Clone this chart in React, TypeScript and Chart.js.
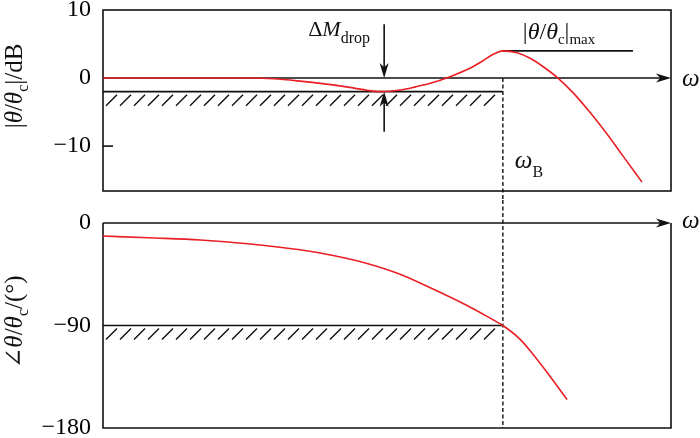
import React, { useEffect, useRef } from "react";
import { Chart, registerables } from "chart.js";

Chart.register(...registerables);

// ---- data ----
const magOmega = [0, 10, 20, 26, 30, 34.7, 40.5, 44, 46.5, 48.8, 52.3, 55, 57.6, 61.1, 64.6, 66.9, 68.7, 70.4, 72.9, 75.2, 77.5, 80.1, 82.7, 85.7, 88.7, 91.5, 94.9];
const magDb = [0, 0, 0, 0, -0.1, -0.45, -1.0, -1.45, -1.8, -2.0, -1.75, -1.3, -0.78, 0.2, 1.43, 2.54, 3.49, 4.0, 3.72, 2.9, 1.66, 0, -2.1, -5.0, -8.2, -11.4, -15.3];
const phaseOmega = [0, 8, 17.1, 25.9, 34.7, 40.5, 46.5, 52.3, 58.1, 64.1, 67.6, 70.4, 73.4, 75.7, 78.2, 81.7];
const phaseDeg = [-11.4, -13, -14.9, -18.4, -23.5, -28.5, -35.5, -45, -58, -72.5, -82, -90, -102, -115.2, -131.3, -154.9];
const magTicks = [10, 0, -10];
const phaseTicks = [0, -90, -180];
const omegaMin = 0;
const omegaMax = 100;
const magMin = -16.6;
const magMax = 10;
const phaseMin = -180;
const phaseMax = 0;
const omegaB = 70.4;
const magLimit = -2;
const magPeak = 4;
const phaseLimit = -90;
const dropOmega = 49.5;
const peakLineEnd = 93.3;
const dropArrowReach = 7.9;

const SERIF = '"Liberation Serif", "DejaVu Serif", serif';
const INK = "#111";
const RED = "#ea1f25";

type Part = { t: string; italic?: boolean; size: number; dy?: number };
const fontOf = (p: Part) => `${p.italic ? "italic " : ""}${p.size}px ${SERIF}`;
function richWidth(ctx: CanvasRenderingContext2D, parts: Part[]) {
  let w = 0;
  for (const p of parts) {
    ctx.font = fontOf(p);
    w += ctx.measureText(p.t).width;
  }
  return w;
}
function drawRich(ctx: CanvasRenderingContext2D, parts: Part[], x: number, y: number) {
  let cx = x;
  ctx.textBaseline = "alphabetic";
  ctx.textAlign = "left";
  for (const p of parts) {
    ctx.font = fontOf(p);
    ctx.fillText(p.t, cx, y + (p.dy || 0));
    cx += ctx.measureText(p.t).width;
  }
}
function drawRotated(ctx: CanvasRenderingContext2D, parts: Part[], baseX: number, centerY: number) {
  ctx.save();
  ctx.translate(baseX, centerY);
  ctx.rotate(-Math.PI / 2);
  const w = richWidth(ctx, parts);
  drawRich(ctx, parts, -w / 2, 0);
  ctx.restore();
}
function line(ctx: CanvasRenderingContext2D, x1: number, y1: number, x2: number, y2: number) {
  ctx.beginPath();
  ctx.moveTo(x1, y1);
  ctx.lineTo(x2, y2);
  ctx.stroke();
}
function arrowHead(ctx: CanvasRenderingContext2D, tx: number, ty: number, ang: number, len: number, hw: number) {
  ctx.save();
  ctx.translate(tx, ty);
  ctx.rotate(ang);
  ctx.beginPath();
  ctx.moveTo(0, 0);
  ctx.lineTo(-len, -hw);
  ctx.lineTo(-len * 0.72, 0);
  ctx.lineTo(-len, hw);
  ctx.closePath();
  ctx.fill();
  ctx.restore();
}
function hatch(ctx: CanvasRenderingContext2D, x1: number, x2: number, yl: number) {
  for (let bx = x1 + 3; bx + 11 <= x2; bx += 14) line(ctx, bx, yl + 14, bx + 11, yl + 3);
}

const minusFmt = (v: any) => String(v).replace("-", "\u2212");

const topDecor = {
  id: "topDecor",
  beforeDatasetsDraw(chart: any) {
    const { ctx, chartArea: a, scales } = chart;
    const x = scales.x, y = scales.y;
    ctx.save();
    ctx.strokeStyle = INK;
    ctx.fillStyle = INK;
    ctx.lineWidth = 1.6;
    ctx.strokeRect(a.left, a.top, a.right - a.left, a.bottom - a.top);
    const y0 = y.getPixelForValue(0);
    line(ctx, a.left, y0, a.right - 8, y0);
    arrowHead(ctx, a.right, y0, 0, 15, 4.5);
    const yt = y.getPixelForValue(-10);
    line(ctx, a.left, yt, a.left + 10, yt);
    const xb = x.getPixelForValue(omegaB);
    const yl = y.getPixelForValue(magLimit);
    line(ctx, a.left, yl, xb, yl);
    ctx.lineWidth = 1.4;
    hatch(ctx, a.left, xb, yl);
    ctx.lineWidth = 1.6;
    const yp = y.getPixelForValue(magPeak);
    line(ctx, xb, yp, x.getPixelForValue(peakLineEnd), yp);
    const xd = x.getPixelForValue(dropOmega);
    const yA = y.getPixelForValue(dropArrowReach);
    const yB = y.getPixelForValue(-dropArrowReach);
    line(ctx, xd, yA, xd, y0 - 8);
    arrowHead(ctx, xd, y0, Math.PI / 2, 15, 4.5);
    line(ctx, xd, yB, xd, yl + 8);
    arrowHead(ctx, xd, yl, -Math.PI / 2, 15, 4.5);
    ctx.setLineDash([4, 2.5]);
    ctx.lineWidth = 1.4;
    line(ctx, xb, y0, xb, chart.height);
    ctx.restore();
  },
  afterDraw(chart: any) {
    const { ctx, chartArea: a, scales } = chart;
    const x = scales.x, y = scales.y;
    ctx.save();
    ctx.fillStyle = INK;
    const y0 = y.getPixelForValue(0);
    drawRich(ctx, [{ t: "ω", italic: true, size: 25 }], a.right + 11, y0 + 8);
    const xb = x.getPixelForValue(omegaB);
    drawRich(ctx, [{ t: "ω", italic: true, size: 25 }, { t: "B", size: 16, dy: 9 }], xb + 12, 168);
    const xd = x.getPixelForValue(dropOmega);
    drawRich(ctx, [{ t: "Δ", size: 22 }, { t: "M", italic: true, size: 22 }, { t: "drop", size: 16, dy: 7 }], xd - 76, 36);
    drawRich(
      ctx,
      [
        { t: "|", size: 24 },
        { t: "θ", italic: true, size: 24 },
        { t: "/", size: 24 },
        { t: "θ", italic: true, size: 24 },
        { t: "c", size: 15, dy: 5 },
        { t: "|", size: 24 },
        { t: "max", size: 15, dy: 5 },
      ],
      xb + 20,
      39
    );
    drawRotated(
      ctx,
      [
        { t: "|", size: 25 },
        { t: "θ", italic: true, size: 25 },
        { t: "/", size: 25 },
        { t: "θ", italic: true, size: 25 },
        { t: "c", size: 16, dy: 6 },
        { t: "|/dB", size: 25 },
      ],
      22,
      86
    );
    ctx.restore();
  },
};

const bottomDecor = {
  id: "bottomDecor",
  beforeDatasetsDraw(chart: any) {
    const { ctx, chartArea: a, scales } = chart;
    const x = scales.x, y = scales.y;
    ctx.save();
    ctx.strokeStyle = INK;
    ctx.fillStyle = INK;
    ctx.lineWidth = 1.6;
    ctx.beginPath();
    ctx.moveTo(a.left, a.top);
    ctx.lineTo(a.left, a.bottom);
    ctx.lineTo(a.right, a.bottom);
    ctx.lineTo(a.right, a.top);
    ctx.stroke();
    line(ctx, a.left, a.top, a.right - 8, a.top);
    arrowHead(ctx, a.right, a.top, 0, 15, 4.5);
    const xb = x.getPixelForValue(omegaB);
    const yl = y.getPixelForValue(phaseLimit);
    line(ctx, a.left, yl, xb, yl);
    ctx.lineWidth = 1.4;
    hatch(ctx, a.left, xb, yl);
    ctx.setLineDash([4, 2.5]);
    line(ctx, xb, 0, xb, a.bottom);
    ctx.restore();
  },
  afterDraw(chart: any) {
    const { ctx, chartArea: a } = chart;
    ctx.save();
    ctx.fillStyle = INK;
    drawRich(ctx, [{ t: "ω", italic: true, size: 25 }], a.right + 11, a.top + 5);
    drawRotated(
      ctx,
      [
        { t: "∠", size: 25 },
        { t: "θ", italic: true, size: 25 },
        { t: "/", size: 25 },
        { t: "θ", italic: true, size: 25 },
        { t: "c", size: 16, dy: 6 },
        { t: "/(°)", size: 25 },
      ],
      22,
      122
    );
    ctx.restore();
  },
};

function makeYScale(min: number, max: number, ticks: number[]) {
  return {
    type: "linear",
    min,
    max,
    grid: { display: false, drawTicks: false },
    border: { display: false },
    afterBuildTicks: (s: any) => {
      s.ticks = ticks.map((v) => ({ value: v }));
    },
    afterFit: (s: any) => {
      s.width = 103;
      s.paddingTop = 0;
      s.paddingBottom = 0;
    },
    ticks: {
      color: "#000",
      padding: 12,
      font: { family: SERIF, size: 24 },
      callback: minusFmt,
    },
  };
}

function baseOptions(yScale: any, pad: any) {
  return {
    responsive: false,
    animation: false,
    devicePixelRatio: 1,
    layout: { padding: pad },
    plugins: { legend: { display: false }, tooltip: { enabled: false } },
    scales: {
      x: { type: "linear", min: omegaMin, max: omegaMax, display: false },
      y: yScale,
    },
  };
}

export default function App() {
  const topRef = useRef<HTMLCanvasElement>(null);
  const botRef = useRef<HTMLCanvasElement>(null);

  useEffect(() => {
    const top = new Chart(topRef.current as HTMLCanvasElement, {
      type: "line",
      data: {
        datasets: [
          {
            data: magOmega.map((w, i) => ({ x: w, y: magDb[i] })),
            borderColor: RED,
            borderWidth: 1.6,
            pointRadius: 0,
            cubicInterpolationMode: "monotone",
          },
        ],
      },
      options: baseOptions(makeYScale(magMin, magMax, magTicks), { left: 0, right: 29, top: 10, bottom: 9 }) as any,
      plugins: [topDecor],
    });
    const bot = new Chart(botRef.current as HTMLCanvasElement, {
      type: "line",
      data: {
        datasets: [
          {
            data: phaseOmega.map((w, i) => ({ x: w, y: phaseDeg[i] })),
            borderColor: RED,
            borderWidth: 1.6,
            pointRadius: 0,
            cubicInterpolationMode: "monotone",
          },
        ],
      },
      options: baseOptions(makeYScale(phaseMin, phaseMax, phaseTicks), { left: 0, right: 29, top: 23, bottom: 10 }) as any,
      plugins: [bottomDecor],
    });
    return () => {
      top.destroy();
      bot.destroy();
    };
  }, []);

  return (
    <div style={{ position: "absolute", left: 0, top: 0, width: 700, height: 438, background: "#fff" }}>
      <canvas ref={topRef} width={700} height={200} style={{ position: "absolute", left: 0, top: 0, display: "block" }} />
      <canvas ref={botRef} width={700} height={238} style={{ position: "absolute", left: 0, top: 200, display: "block" }} />
    </div>
  );
}
